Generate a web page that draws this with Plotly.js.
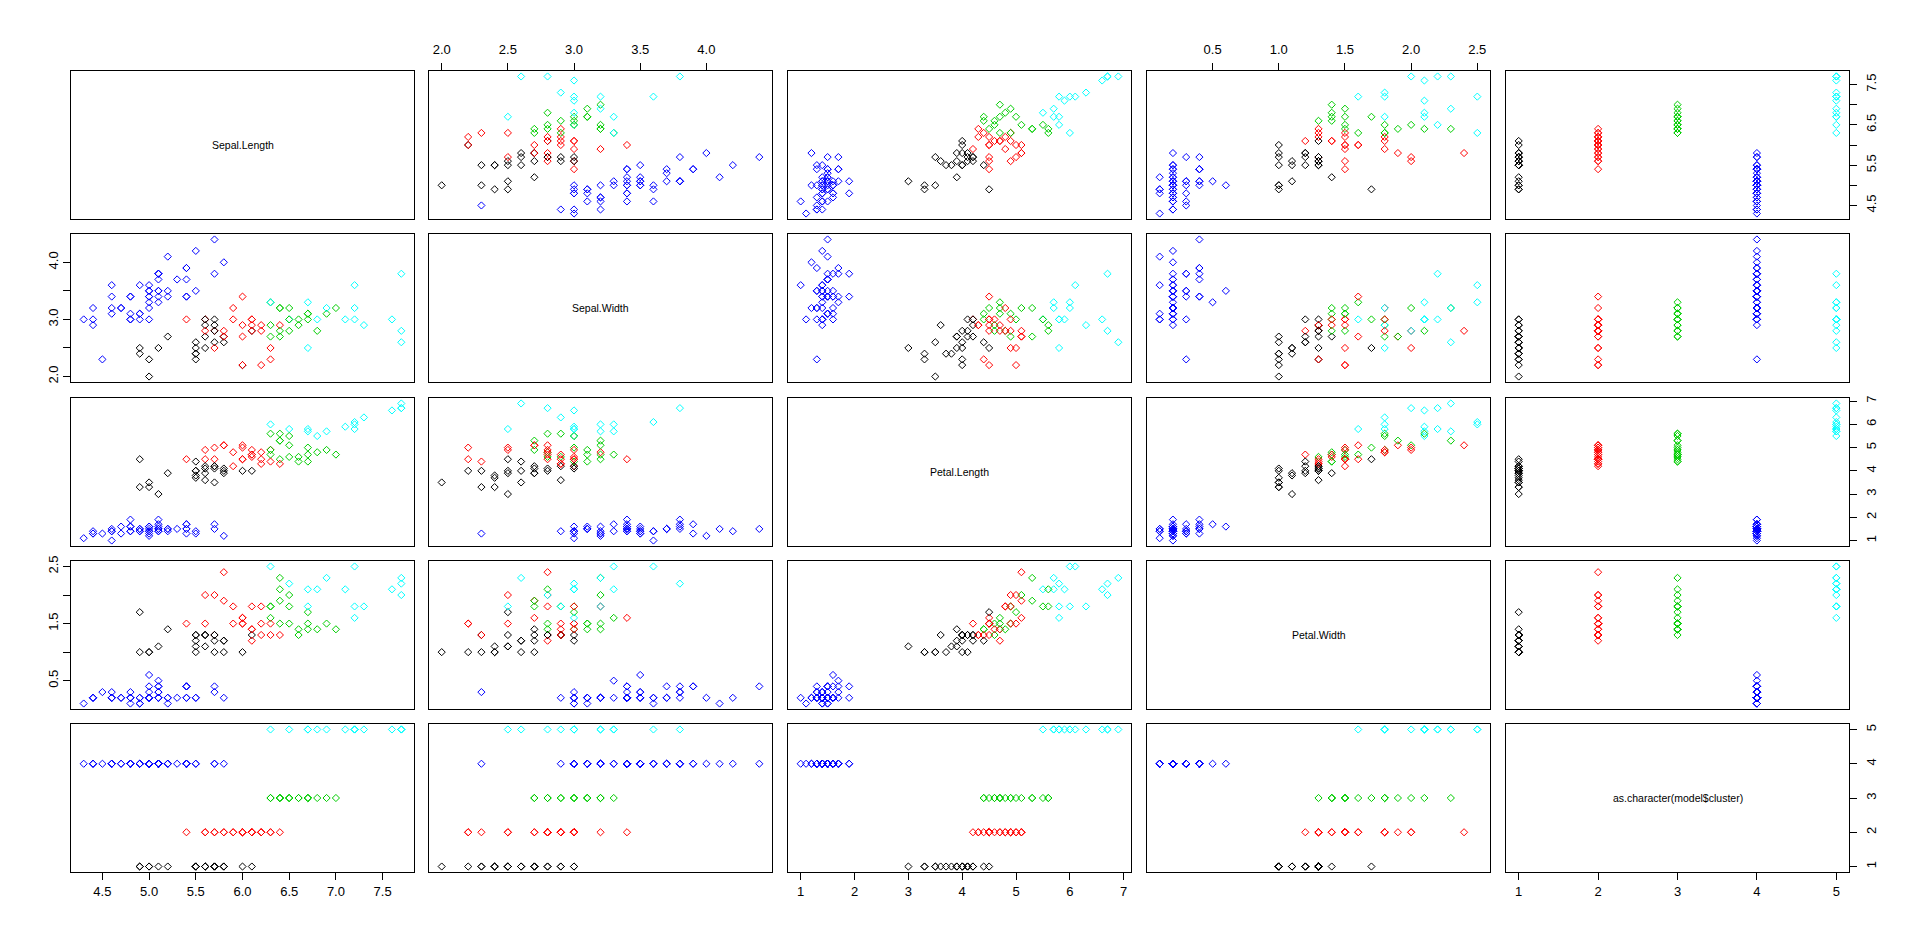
<!DOCTYPE html>
<html><head><meta charset="utf-8">
<script src="https://cdn.plot.ly/plotly-3.0.1.min.js"></script>
<style>html,body{margin:0;padding:0;background:#fff}#plot{width:1920px;height:945px}</style>
</head><body><div id="plot"></div>
<script>
const varNames = ["Sepal.Length","Sepal.Width","Petal.Length","Petal.Width","as.character(model$cluster)"];

const sepalLength = [5.1,4.9,4.7,4.6,5.0,5.4,4.6,5.0,4.4,4.9,5.4,4.8,4.8,4.3,5.8,5.7,5.4,5.1,5.7,5.1,5.4,5.1,4.6,5.1,4.8,5.0,5.0,5.2,5.2,4.7,4.8,5.4,5.2,5.5,4.9,5.0,5.5,4.9,4.4,5.1,5.0,4.5,4.4,5.0,5.1,4.8,5.1,4.6,5.3,5.0,
7.0,6.4,6.9,5.5,6.5,5.7,6.3,4.9,6.6,5.2,5.0,5.9,6.0,6.1,5.6,6.7,5.6,5.8,6.2,5.6,5.9,6.1,6.3,6.1,6.4,6.6,6.8,6.7,6.0,5.7,5.5,5.5,5.8,6.0,5.4,6.0,6.7,6.3,5.6,5.5,5.5,6.1,5.8,5.0,5.6,5.7,5.7,6.2,5.1,5.7,
6.3,5.8,7.1,6.3,6.5,7.6,4.9,7.3,6.7,7.2,6.5,6.4,6.8,5.7,5.8,6.4,6.5,7.7,7.7,6.0,6.9,5.6,7.7,6.3,6.7,7.2,6.2,6.1,6.4,7.2];
const sepalWidth = [3.5,3.0,3.2,3.1,3.6,3.9,3.4,3.4,2.9,3.1,3.7,3.4,3.0,3.0,4.0,4.4,3.9,3.5,3.8,3.8,3.4,3.7,3.6,3.3,3.4,3.0,3.4,3.5,3.4,3.2,3.1,3.4,4.1,4.2,3.1,3.2,3.5,3.6,3.0,3.4,3.5,2.3,3.2,3.5,3.8,3.0,3.8,3.2,3.7,3.3,
3.2,3.2,3.1,2.3,2.8,2.8,3.3,2.4,2.9,2.7,2.0,3.0,2.2,2.9,2.9,3.1,3.0,2.7,2.2,2.5,3.2,2.8,2.5,2.8,2.9,3.0,2.8,3.0,2.9,2.6,2.4,2.4,2.7,2.7,3.0,3.4,3.1,2.3,3.0,2.5,2.6,3.0,2.6,2.3,2.7,3.0,2.9,2.9,2.5,2.8,
3.3,2.7,3.0,2.9,3.0,3.0,2.5,2.9,2.5,3.6,3.2,2.7,3.0,2.5,2.8,3.2,3.0,3.8,2.6,2.2,3.2,2.8,2.8,2.7,3.3,3.2,2.8,3.0,2.8,3.0];
const petalLength = [1.4,1.4,1.3,1.5,1.4,1.7,1.4,1.5,1.4,1.5,1.5,1.6,1.4,1.1,1.2,1.5,1.3,1.4,1.7,1.5,1.7,1.5,1.0,1.7,1.9,1.6,1.6,1.5,1.4,1.6,1.6,1.5,1.5,1.4,1.5,1.2,1.3,1.4,1.3,1.5,1.3,1.3,1.3,1.6,1.9,1.4,1.6,1.4,1.5,1.4,
4.7,4.5,4.9,4.0,4.6,4.5,4.7,3.3,4.6,3.9,3.5,4.2,4.0,4.7,3.6,4.4,4.5,4.1,4.5,3.9,4.8,4.0,4.9,4.7,4.3,4.4,4.8,5.0,4.5,3.5,3.8,3.7,3.9,5.1,4.5,4.5,4.7,4.4,4.1,4.0,4.4,4.6,4.0,3.3,4.2,4.2,4.2,4.3,3.0,4.1,
6.0,5.1,5.9,5.6,5.8,6.6,4.5,6.3,5.8,6.1,5.1,5.3,5.5,5.0,5.1,5.3,5.5,6.7,6.9,5.0,5.7,4.9,6.7,4.9,5.7,6.0,4.8,4.9,5.6,5.8];
const petalWidth = [0.2,0.2,0.2,0.2,0.2,0.4,0.3,0.2,0.2,0.1,0.2,0.2,0.1,0.1,0.2,0.4,0.4,0.3,0.3,0.3,0.2,0.4,0.2,0.5,0.2,0.2,0.4,0.2,0.2,0.2,0.2,0.4,0.1,0.2,0.2,0.2,0.2,0.1,0.2,0.2,0.3,0.3,0.2,0.6,0.4,0.3,0.2,0.2,0.2,0.2,
1.4,1.5,1.5,1.3,1.5,1.3,1.6,1.0,1.3,1.4,1.0,1.5,1.0,1.4,1.3,1.4,1.5,1.0,1.5,1.1,1.8,1.3,1.5,1.2,1.3,1.4,1.4,1.7,1.5,1.0,1.1,1.0,1.2,1.6,1.5,1.6,1.5,1.3,1.3,1.3,1.2,1.4,1.2,1.0,1.3,1.2,1.3,1.3,1.1,1.3,
2.5,1.9,2.1,1.8,2.2,2.1,1.7,1.8,1.8,2.5,2.0,1.9,2.1,2.0,2.4,2.3,1.8,2.2,2.3,1.5,2.3,2.0,2.0,1.8,2.1,1.8,1.8,1.8,2.1,1.6];
const cluster = [4,4,4,4,4,4,4,4,4,4,4,4,4,4,4,4,4,4,4,4,4,4,4,4,4,4,4,4,4,4,4,4,4,4,4,4,4,4,4,4,4,4,4,4,4,4,4,4,4,4,
3,3,3,1,3,2,3,1,3,1,1,2,1,2,1,3,2,1,2,1,2,1,2,2,2,3,3,3,2,1,1,1,1,2,2,2,3,2,1,1,1,2,1,1,1,1,1,2,1,1,
5,2,5,3,5,5,1,5,5,5,3,3,5,2,2,3,3,5,5,2,5,2,5,3,5,5,2,2,3,5];

const clusterColors = ["#000000","#FF0000","#00CD00","#0000FF","#00FFFF"];

const tickVals = [
  [4.5,5.0,5.5,6.0,6.5,7.0,7.5],
  [2.0,2.5,3.0,3.5,4.0],
  [1,2,3,4,5,6,7],
  [0.5,1.0,1.5,2.0,2.5],
  [1,2,3,4,5]
];
const xTickText = [
  ["4.5","5.0","5.5","6.0","6.5","7.0","7.5"],
  ["2.0","2.5","3.0","3.5","4.0"],
  ["1","2","3","4","5","6","7"],
  ["0.5","1.0","1.5","2.0","2.5"],
  ["1","2","3","4","5"]
];
const yTickText = [
  ["4.5","","5.5","","6.5","","7.5"],
  ["2.0","","3.0","","4.0"],
  ["1","2","3","4","5","6","7"],
  ["0.5","","1.5","","2.5"],
  ["1","2","3","4","5"]
];

const vars = [sepalLength, sepalWidth, petalLength, petalWidth, cluster];
const ranges = vars.map(v => {
  const mn = Math.min(...v), mx = Math.max(...v), d = (mx - mn) * 0.04;
  return [mn - d, mx + d];
});

const W = 1920, H = 945;
const colLeft = [71, 429, 788, 1147, 1506];
const panelW = 343;
const rowTop = [71, 234, 398, 561, 724];
const panelH = 148;

const pointColors = cluster.map(c => clusterColors[c - 1]);
const fontFam = "Liberation Sans, Arial, sans-serif";

const traces = [];
const layout = {
  width: W, height: H,
  margin: {l: 0, r: 0, t: 0, b: 0},
  paper_bgcolor: "#ffffff", plot_bgcolor: "#ffffff",
  showlegend: false,
  font: {family: fontFam, size: 13, color: "#000000"},
  annotations: []
};

for (let r = 0; r < 5; r++) {
  for (let c = 0; c < 5; c++) {
    const k = r * 5 + c + 1;
    const xa = "xaxis" + k, ya = "yaxis" + k;
    const xr = "x" + k, yr = "y" + k;

    const showX = (r === 4 && c % 2 === 0) || (r === 0 && c % 2 === 1);
    const showY = (c === 4 && r % 2 === 0) || (c === 0 && r % 2 === 1);

    layout[xa] = {
      domain: [colLeft[c] / W, (colLeft[c] + panelW) / W],
      anchor: yr,
      range: ranges[c],
      showgrid: false, zeroline: false,
      showline: true, mirror: true, linecolor: "#000000", linewidth: 1,
      side: (r === 0) ? "top" : "bottom",
      tickmode: "array",
      tickvals: showX ? tickVals[c] : [],
      ticktext: showX ? xTickText[c] : [],
      ticks: showX ? "outside" : "",
      ticklen: 7, tickwidth: 1, tickcolor: "#000000",
      showticklabels: showX,
      ticklabelstandoff: (r === 0) ? 4 : 0,
      tickfont: {family: fontFam, size: 13, color: "#000000"},
      fixedrange: true
    };
    layout[ya] = {
      domain: [1 - (rowTop[r] + panelH) / H, 1 - rowTop[r] / H],
      anchor: xr,
      range: ranges[r],
      showgrid: false, zeroline: false,
      showline: true, mirror: true, linecolor: "#000000", linewidth: 1,
      side: (c === 4) ? "right" : "left",
      tickmode: "array",
      tickvals: showY ? tickVals[r] : [],
      ticktext: showY ? yTickText[r] : [],
      ticks: showY ? "outside" : "",
      ticklen: 7, tickwidth: 1, tickcolor: "#000000",
      showticklabels: showY,
      tickangle: -90,
      ticklabelstandoff: (c === 4) ? 3 : 0,
      tickfont: {family: fontFam, size: 13, color: "#000000"},
      fixedrange: true
    };

    if (r === c) {
      traces.push({
        type: "scatter", mode: "markers",
        x: [null], y: [null],
        xaxis: xr, yaxis: yr,
        hoverinfo: "skip"
      });
      layout.annotations.push({
        xref: xr + " domain", yref: yr + " domain",
        x: 0.5, y: 0.5, xanchor: "center", yanchor: "middle",
        text: varNames[r], showarrow: false,
        font: {family: fontFam, size: 10.5, color: "#000000"}
      });
    } else {
      traces.push({
        type: "scatter", mode: "markers",
        x: vars[c], y: vars[r],
        xaxis: xr, yaxis: yr,
        marker: {symbol: "diamond-open", size: 5.5, color: pointColors, line: {width: 1, color: pointColors}},
        hoverinfo: "skip"
      });
    }
  }
}

Plotly.newPlot("plot", traces, layout, {staticPlot: true, displayModeBar: false});
</script>
</body></html>
